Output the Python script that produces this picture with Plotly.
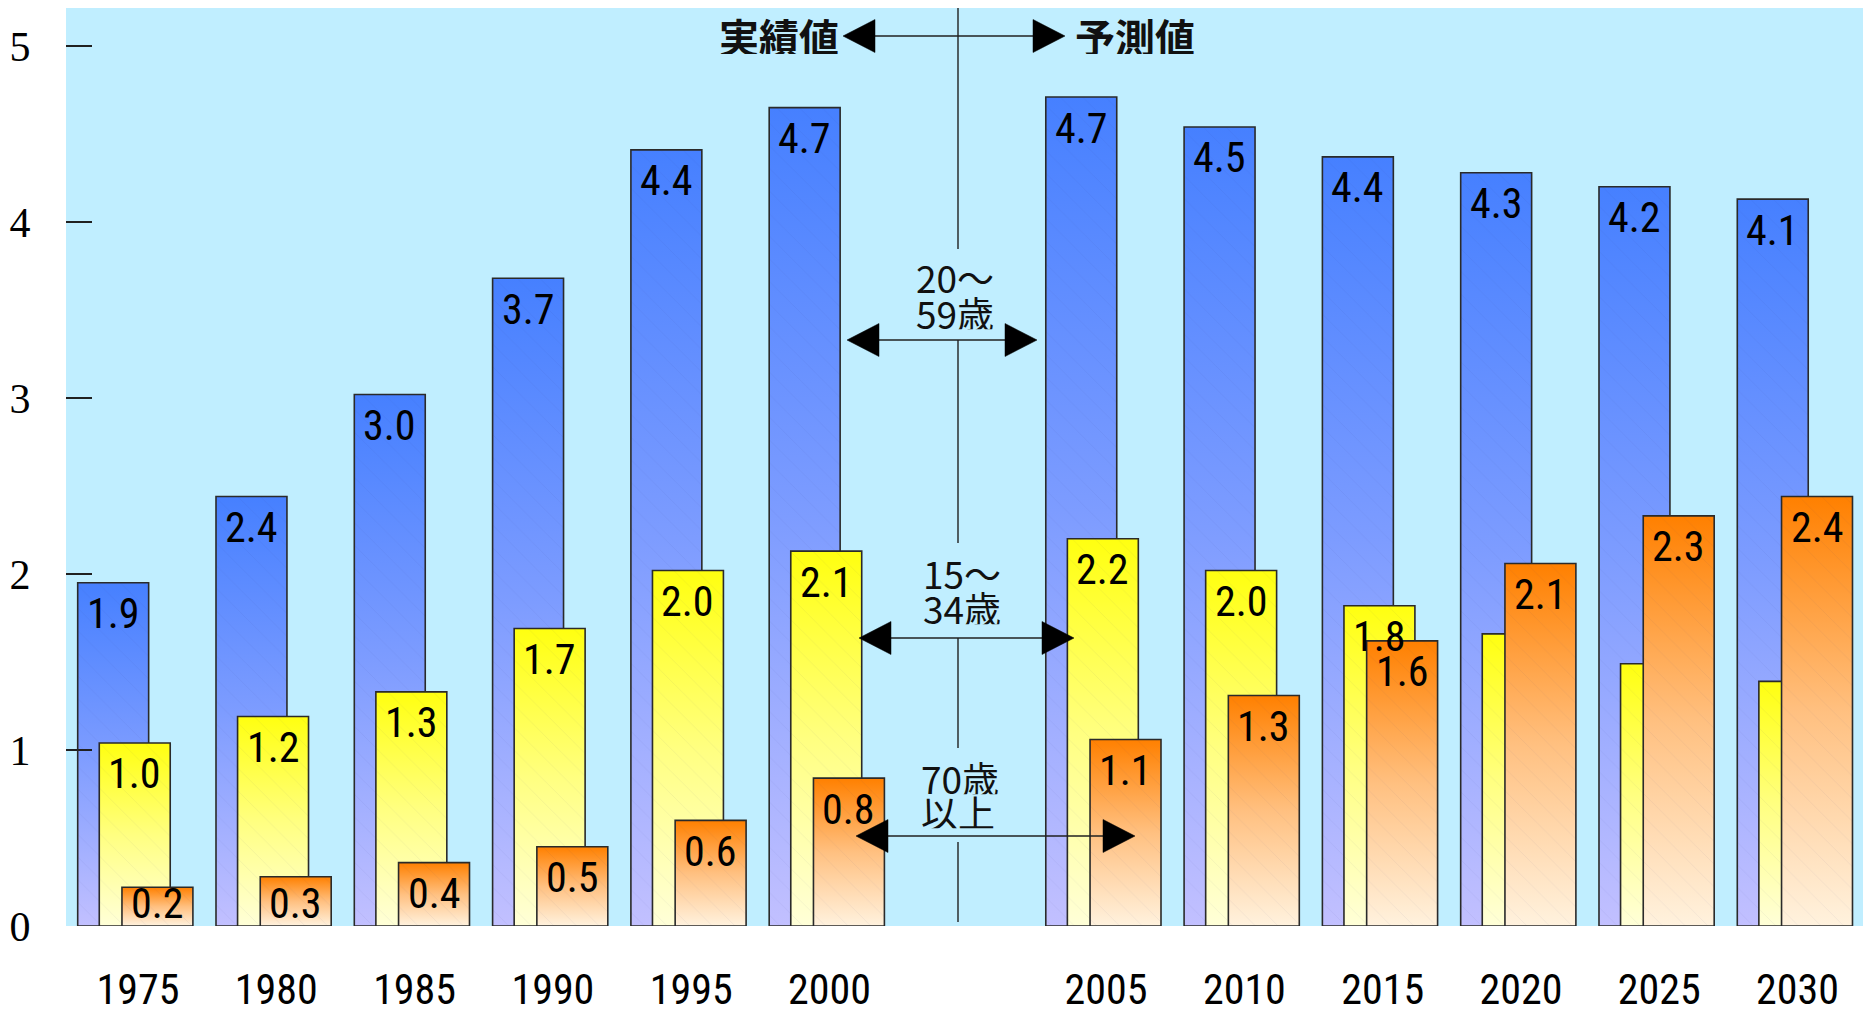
import plotly.graph_objects as go

# ---------------- data ----------------
years = ["1975", "1980", "1985", "1990", "1995", "2000",
         "2005", "2010", "2015", "2020", "2025", "2030"]
# category slot on the x axis (slot 6 is the empty gap between 実績値 and 予測値)
slots = [0, 1, 2, 3, 4, 5, 7, 8, 9, 10, 11, 12]

age20_59 = [1.95, 2.44, 3.02, 3.68, 4.41, 4.65, 4.71, 4.54, 4.37, 4.28, 4.20, 4.13]
age15_34 = [1.04, 1.19, 1.33, 1.69, 2.02, 2.13, 2.20, 2.02, 1.82, 1.66, 1.49, 1.39]
age70 = [0.22, 0.28, 0.36, 0.45, 0.60, 0.84, 1.06, 1.31, 1.62, 2.06, 2.33, 2.44]

lab20_59 = ["1.9", "2.4", "3.0", "3.7", "4.4", "4.7", "4.7", "4.5", "4.4", "4.3", "4.2", "4.1"]
lab15_34 = ["1.0", "1.2", "1.3", "1.7", "2.0", "2.1", "2.2", "2.0", "1.8", "", "", ""]
lab70 = ["0.2", "0.3", "0.4", "0.5", "0.6", "0.8", "1.1", "1.3", "1.6", "2.1", "2.3", "2.4"]

y_ticks = [0, 1, 2, 3, 4, 5]

# ---------------- geometry / style ----------------
W, H = 1871, 1014
ML, MR, MT, MB = 66, 8, 8, 88
PW, PH = W - ML - MR, H - MT - MB
X0, X1 = -0.5206, 12.473
PX_PER_Y = 176.0
Y1 = PH / PX_PER_Y

BAR_W = 0.513
NARROW = "Roboto Condensed, Liberation Sans Narrow, Arial Narrow, Liberation Sans, sans-serif"
CJK = "Noto Sans CJK JP, Noto Sans CJK SC, sans-serif"


def px2x(px):
    return X0 + (px - ML) / PW * (X1 - X0)


def px2y(py):
    return Y1 * (1 - (py - MT) / PH)


series = [
    dict(name="20～59歳", vals=age20_59, labs=lab20_59, off=-0.436,
         cs=[[0, "#c2c0ff"], [0.5, "#7d9cff"], [1, "#4680ff"]], z=1),
    dict(name="15～34歳", vals=age15_34, labs=lab15_34, off=-0.280,
         cs=[[0, "#ffffd8"], [0.5, "#ffff80"], [1, "#ffff10"]], z=3),
    dict(name="70歳以上", vals=age70, labs=lab70, off=-0.116,
         cs=[[0, "#fff2de"], [0.5, "#ffc080"], [1, "#ff8000"]], z=5),
]

fig = go.Figure()
annotations = []

for s in series:
    # gradient fill of every bar (drawn underneath the bar outline)
    for sl, v in zip(slots, s["vals"]):
        l = sl + s["off"]
        r = l + BAR_W
        fig.add_trace(go.Scatter(
            x=[l, l, r, r, l], y=[0, v, v, 0, 0], mode="lines",
            fill="toself", line=dict(width=0, color="rgba(0,0,0,0)"),
            fillgradient=dict(type="vertical", colorscale=s["cs"]),
            hoverinfo="skip", showlegend=False, zorder=s["z"]))
    # the bars themselves (outline + faint hatch)
    fig.add_trace(go.Bar(
        x=slots, y=s["vals"], name=s["name"], width=BAR_W, offset=s["off"],
        marker=dict(color="rgba(0,0,0,0)",
                    line=dict(color="#2a2a2a", width=1.6),
                    pattern=dict(shape="\\", fgcolor="rgba(30,40,120,0.10)",
                                 size=16, solidity=0.06, fillmode="overlay")),
        showlegend=False, zorder=s["z"] + 1))
    # value labels
    for sl, v, t in zip(slots, s["vals"], s["labs"]):
        if not t:
            continue
        shift = min(31, v * PX_PER_Y - 23)
        annotations.append(dict(
            x=sl + s["off"] + BAR_W / 2, y=v, xref="x", yref="y",
            text=t, showarrow=False, yanchor="middle", xanchor="center",
            yshift=-shift, font=dict(family=NARROW, size=42, color="black")))

# ---------------- divider & arrows ----------------
shapes = []
VX = px2x(958)
for a, b in [(8, 249), (340, 543), (638, 748), (842, 922)]:
    shapes.append(dict(type="line", xref="x", yref="y", x0=VX, x1=VX,
                       y0=px2y(a), y1=px2y(b), line=dict(color="#202020", width=1.4)))

AL, AH = 32, 16.5
for ypx, lx, rx in [(36, 843, 1065), (340, 847, 1037), (638, 859, 1074), (836, 856, 1135)]:
    shapes.append(dict(type="line", xref="x", yref="y", x0=px2x(lx + AL), x1=px2x(rx - AL),
                       y0=px2y(ypx), y1=px2y(ypx), line=dict(color="#202020", width=1.4)))
    left = "M {} {} L {} {} L {} {} Z".format(px2x(lx), px2y(ypx), px2x(lx + AL), px2y(ypx - AH),
                                              px2x(lx + AL), px2y(ypx + AH))
    right = "M {} {} L {} {} L {} {} Z".format(px2x(rx), px2y(ypx), px2x(rx - AL), px2y(ypx - AH),
                                               px2x(rx - AL), px2y(ypx + AH))
    for p in (left, right):
        shapes.append(dict(type="path", xref="x", yref="y", path=p,
                           fillcolor="black", line=dict(color="black", width=0.5)))

# two-line age-group captions: each line placed separately to keep the tight line spacing
texts = [
    ("<b>実績値</b>", 841, 36, "right", 40),
    ("<b>予測値</b>", 1073, 36, "left", 40),
    ("20～", 955, 276, "center", 37), ("59歳", 955, 312, "center", 37),
    ("15～", 962, 572, "center", 37), ("34歳", 962, 607, "center", 37),
    ("70歳", 960, 777, "center", 37), ("以上", 958, 811, "center", 37),
]
for t, xp, yp, anc, sz in texts:
    annotations.append(dict(x=px2x(xp), y=px2y(yp), xref="x", yref="y", text=t,
                            showarrow=False, xanchor=anc, yanchor="middle", height=sz * 0.9,
                            font=dict(family=CJK, size=sz, color="#111111")))

fig.update_layout(
    width=W, height=H, margin=dict(l=ML, r=MR, t=MT, b=MB, pad=0, autoexpand=False),
    paper_bgcolor="white", plot_bgcolor="#c0eeff",
    barmode="overlay", showlegend=False,
    shapes=shapes, annotations=annotations,
    xaxis=dict(range=[X0, X1], tickmode="array", tickvals=slots, ticktext=years,
               showgrid=False, zeroline=False, showline=True, linecolor="#484e56",
               linewidth=2, ticks="", ticklabelstandoff=26, automargin=False,
               tickfont=dict(family=NARROW, size=42, color="black")),
    yaxis=dict(range=[0, Y1], tickmode="array", tickvals=y_ticks,
               showgrid=False, zeroline=False, showline=True, linecolor="#484e56",
               linewidth=2, ticks="inside", ticklen=26, tickwidth=1.5, tickcolor="#202020",
               ticklabelstandoff=25, automargin=False,
               tickfont=dict(family="Liberation Serif, Times New Roman, serif", size=42, color="black")),
)

fig.write_html("out.html", config={"displayModeBar": False},
               post_script="document.body.style.margin='0';")
